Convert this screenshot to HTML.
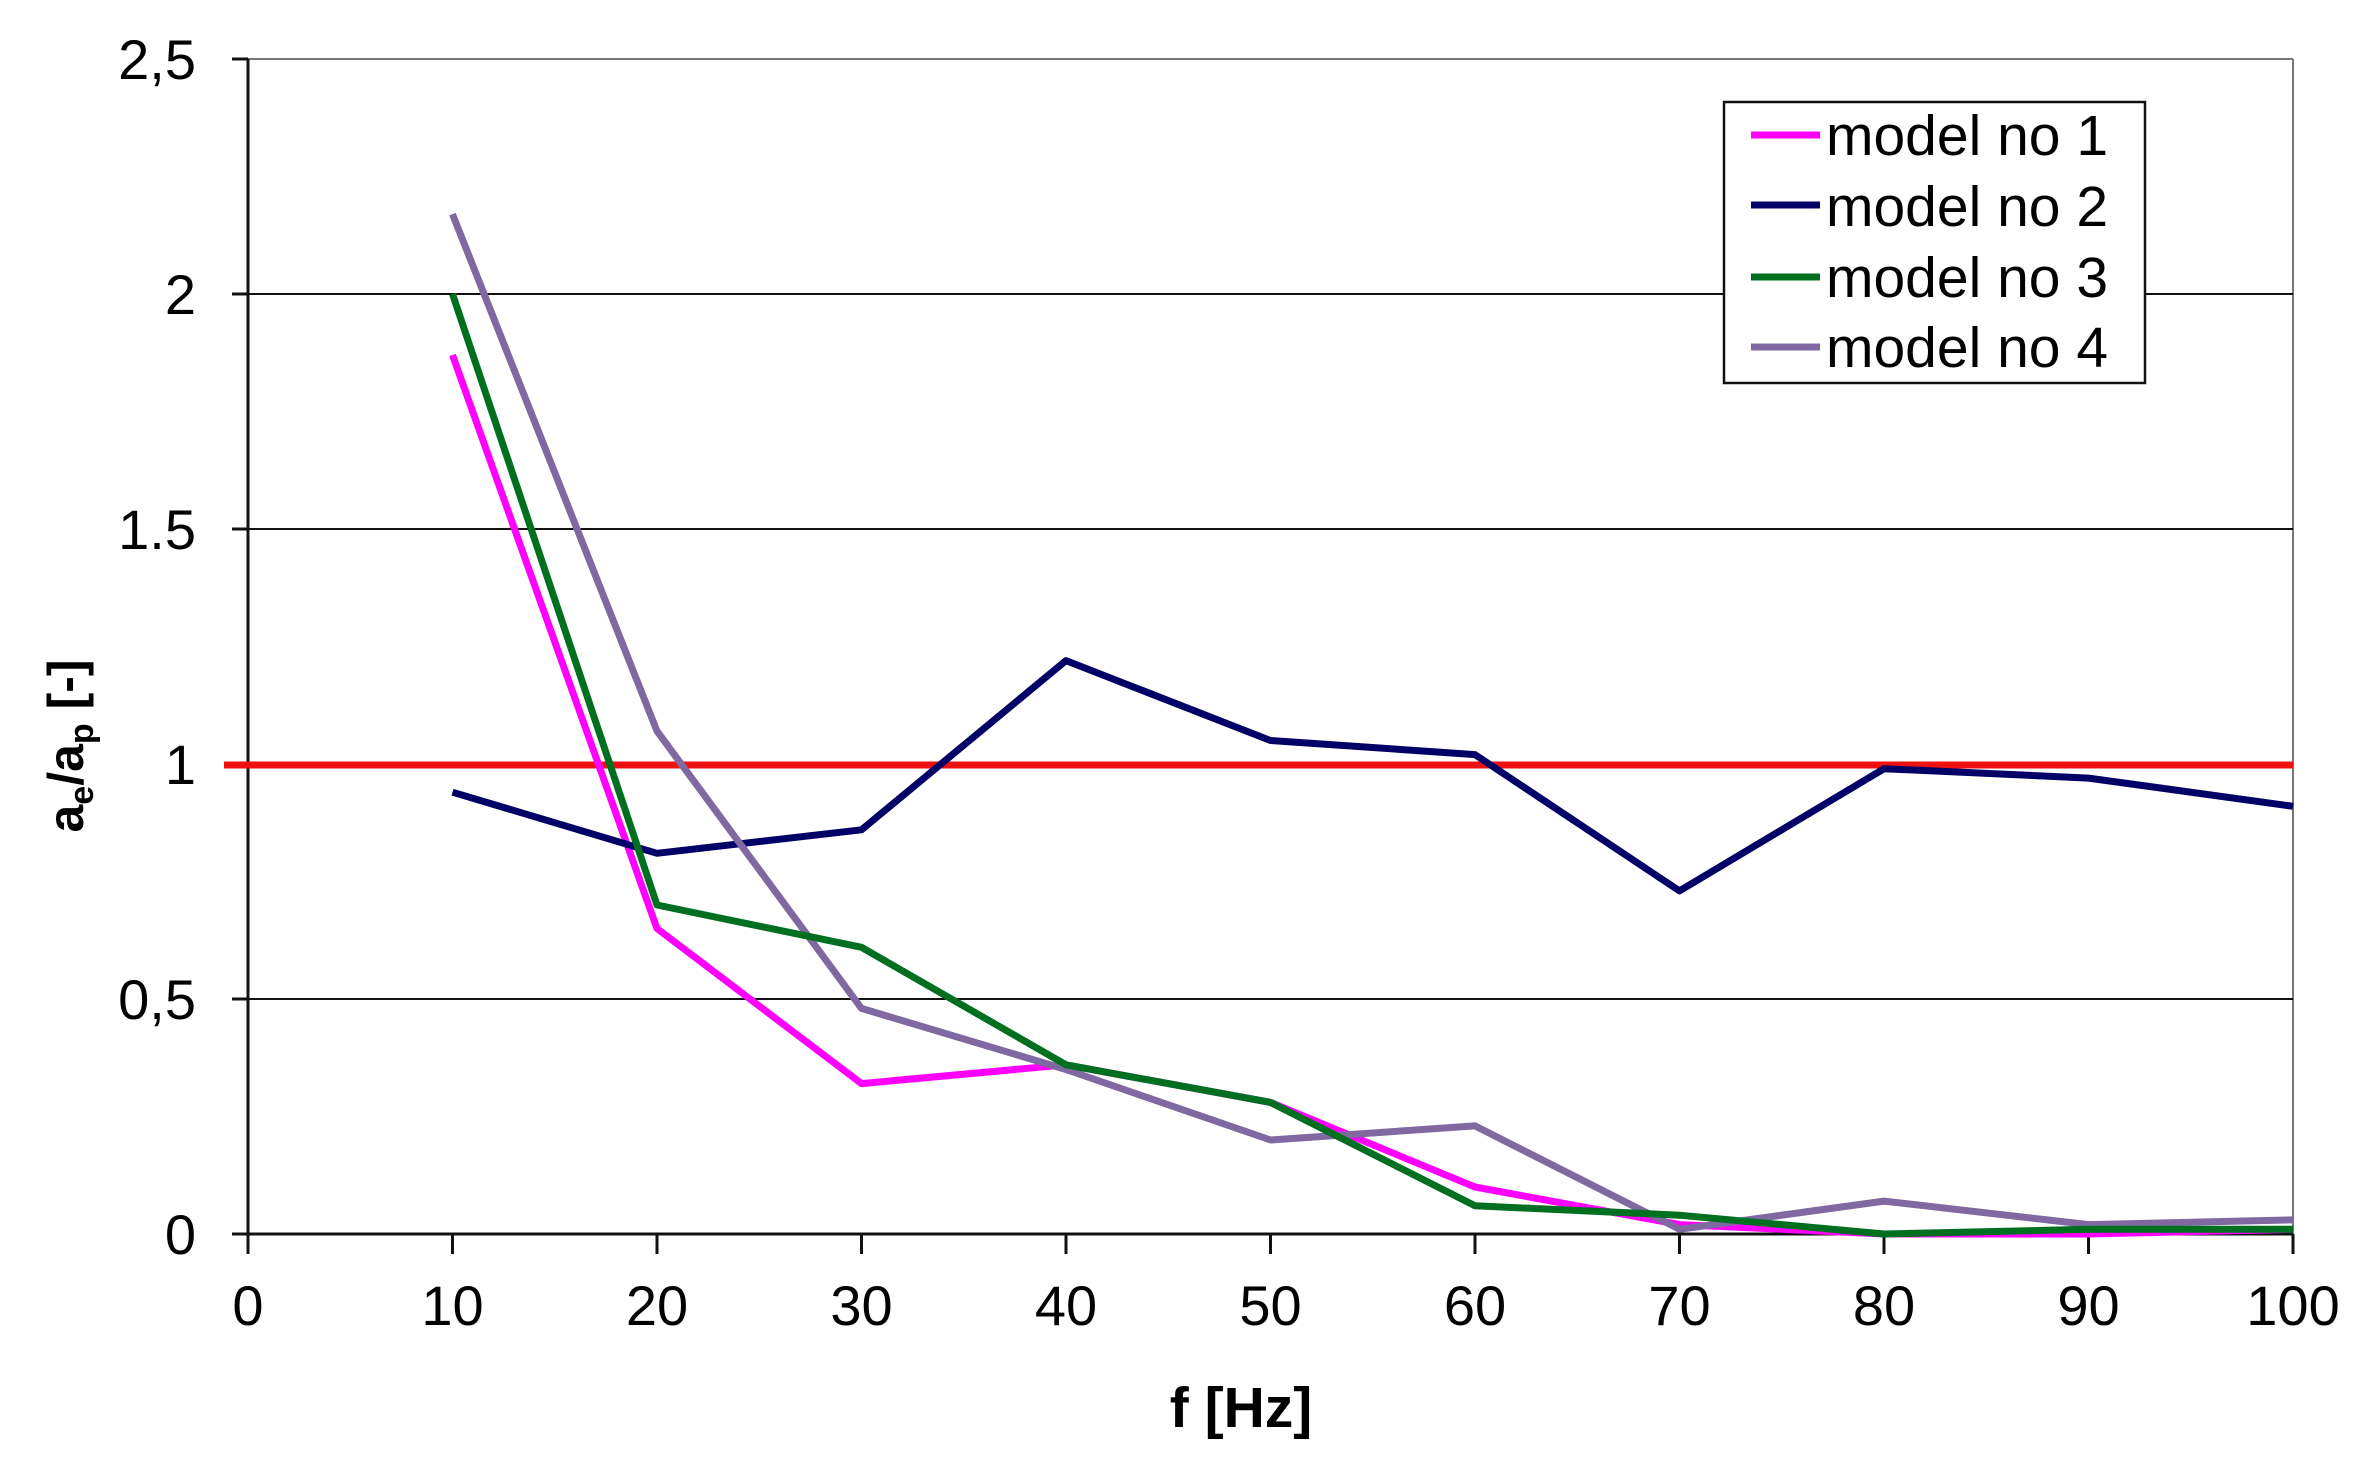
<!DOCTYPE html>
<html><head><meta charset="utf-8"><style>
html,body{margin:0;padding:0;background:#fff;}
svg{display:block;}
text{font-family:"Liberation Sans",Arial,sans-serif;fill:#000;}
</style></head><body>
<svg width="2376" height="1476" viewBox="0 0 2376 1476" xmlns="http://www.w3.org/2000/svg">
<rect width="2376" height="1476" fill="#fff"/>
<line x1="248" y1="59" x2="2293" y2="59" stroke="#777" stroke-width="2"/>
<line x1="2293" y1="59" x2="2293" y2="1234" stroke="#777" stroke-width="2"/>
<g stroke="#111" stroke-width="2">
<line x1="248" y1="294" x2="2293" y2="294"/>
<line x1="248" y1="529" x2="2293" y2="529"/>
<line x1="248" y1="764" x2="2293" y2="764"/>
<line x1="248" y1="999" x2="2293" y2="999"/>
</g>
<g stroke="#111" stroke-width="3">
<line x1="248" y1="59" x2="248" y2="1254"/>
<line x1="232" y1="1234" x2="2293" y2="1234"/>
<line x1="232" y1="59" x2="248" y2="59"/>
<line x1="232" y1="294" x2="248" y2="294"/>
<line x1="232" y1="529" x2="248" y2="529"/>
<line x1="232" y1="764" x2="248" y2="764"/>
<line x1="232" y1="999" x2="248" y2="999"/>
<line x1="452.5" y1="1234" x2="452.5" y2="1254"/>
<line x1="657" y1="1234" x2="657" y2="1254"/>
<line x1="861.5" y1="1234" x2="861.5" y2="1254"/>
<line x1="1066" y1="1234" x2="1066" y2="1254"/>
<line x1="1270.5" y1="1234" x2="1270.5" y2="1254"/>
<line x1="1475" y1="1234" x2="1475" y2="1254"/>
<line x1="1679.5" y1="1234" x2="1679.5" y2="1254"/>
<line x1="1884" y1="1234" x2="1884" y2="1254"/>
<line x1="2088.5" y1="1234" x2="2088.5" y2="1254"/>
<line x1="2293" y1="1234" x2="2293" y2="1254"/>
</g>
<g font-size="56" text-anchor="end">
<text x="196" y="79">2,5</text>
<text x="196" y="314">2</text>
<text x="196" y="549">1.5</text>
<text x="196" y="784">1</text>
<text x="196" y="1019">0,5</text>
<text x="196" y="1254">0</text>
</g>
<g font-size="56" text-anchor="middle">
<text x="248" y="1325">0</text>
<text x="452.5" y="1325">10</text>
<text x="657" y="1325">20</text>
<text x="861.5" y="1325">30</text>
<text x="1066" y="1325">40</text>
<text x="1270.5" y="1325">50</text>
<text x="1475" y="1325">60</text>
<text x="1679.5" y="1325">70</text>
<text x="1884" y="1325">80</text>
<text x="2088.5" y="1325">90</text>
<text x="2293" y="1325">100</text>
</g>
<text x="1241" y="1427" font-size="57" font-weight="bold" text-anchor="middle">f [Hz]</text>
<text transform="translate(83,746) rotate(-90)" font-size="50" font-weight="bold" text-anchor="middle">a<tspan font-size="34" dy="10">e</tspan><tspan dy="-10">/a</tspan><tspan font-size="34" dy="10">p</tspan><tspan dy="-10"> [-]</tspan></text>
<line x1="224" y1="765" x2="2293" y2="765" stroke="#ee1111" stroke-width="7"/>
<g fill="none" stroke-width="7" stroke-linejoin="round">
<polyline stroke="#ff00ff" points="452.5,355 657,928.5 861.5,1083.6 1066,1064.8 1270.5,1102.4 1475,1187 1679.5,1224.6 1884,1234 2088.5,1234 2293,1229.3"/>
<polyline stroke="#000066" points="452.5,792.2 657,853.3 861.5,829.8 1066,660.6 1270.5,740.5 1475,754.6 1679.5,890.9 1884,768.7 2088.5,778.1 2293,806.3"/>
<polyline stroke="#8068a0" points="452.5,214.1 657,731.1 861.5,1008.4 1066,1069.5 1270.5,1140 1475,1125.9 1679.5,1229.3 1884,1201.1 2088.5,1224.6 2293,1219.9"/>
<polyline stroke="#007020" points="452.5,294 657,905 861.5,947.3 1066,1064.8 1270.5,1102.4 1475,1205.8 1679.5,1215.2 1884,1234 2088.5,1229.3 2293,1229.3"/>
</g>
<rect x="1724" y="102" width="421" height="281" fill="#fff" stroke="#111" stroke-width="2.5"/>
<g stroke-width="7">
<line x1="1751" y1="135" x2="1820" y2="135" stroke="#ff00ff"/>
<line x1="1751" y1="205" x2="1820" y2="205" stroke="#000066"/>
<line x1="1751" y1="277" x2="1820" y2="277" stroke="#007020"/>
<line x1="1751" y1="347" x2="1820" y2="347" stroke="#8068a0"/>
</g>
<g font-size="57">
<text x="1826" y="155">model no 1</text>
<text x="1826" y="226">model no 2</text>
<text x="1826" y="297">model no 3</text>
<text x="1826" y="367">model no 4</text>
</g>
</svg>
</body></html>
